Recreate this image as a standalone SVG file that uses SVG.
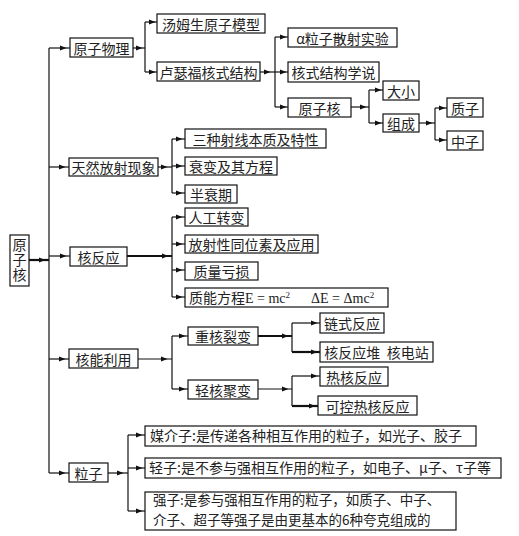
<svg xmlns="http://www.w3.org/2000/svg" width="519" height="536" viewBox="0 0 519 536">
<defs>
<style>
.b{fill:#fff;stroke:#111;stroke-width:1.2}
.t{font-family:"Noto Sans CJK SC","Noto Sans",sans-serif;font-size:14px;fill:#222;text-anchor:middle;dominant-baseline:central}
.tl{font-family:"Noto Sans CJK SC","Noto Sans",sans-serif;font-size:14px;fill:#222}
.c line,.c polyline{stroke:#111;stroke-width:1.2;fill:none}
.c .k{stroke-width:2.2}
.s{font-family:"Liberation Serif",serif}
.v{writing-mode:vertical-rl;letter-spacing:1px}
</style>
<path id="ah" d="M-5,-2.5 L1.5,0 L-5,2.5 Z" fill="#111"/>
</defs>
<rect width="519" height="536" fill="#fff"/>
<g class="c" id="connectors">
<line class="k" x1="29" y1="260" x2="49" y2="260"/>
<use href="#ah" x="44" y="260"/>
<line x1="49" y1="48" x2="49" y2="473"/>
<line x1="49" y1="48" x2="70" y2="48"/><use href="#ah" x="65" y="48"/>
<line x1="49" y1="167" x2="69" y2="167"/><use href="#ah" x="64" y="167"/>
<line x1="49" y1="256" x2="70" y2="256"/><use href="#ah" x="65" y="256"/>
<line x1="49" y1="359" x2="69" y2="359"/><use href="#ah" x="64" y="359"/>
<line x1="49" y1="473" x2="69" y2="473"/><use href="#ah" x="64" y="473"/>
<line x1="133" y1="48" x2="145" y2="48"/><use href="#ah" x="141" y="48"/>
<line x1="145" y1="22" x2="145" y2="72"/>
<line x1="145" y1="22" x2="157" y2="22"/><use href="#ah" x="154" y="22"/>
<line x1="145" y1="72" x2="157" y2="72"/><use href="#ah" x="154" y="72"/>
<line x1="260" y1="72" x2="275" y2="72"/><use href="#ah" x="269" y="72"/>
<line x1="275" y1="37" x2="275" y2="107"/>
<line x1="275" y1="37" x2="288" y2="37"/><use href="#ah" x="285" y="37"/>
<line x1="275" y1="72" x2="288" y2="72"/><use href="#ah" x="285" y="72"/>
<line x1="275" y1="107" x2="288" y2="107"/><use href="#ah" x="285" y="107"/>
<line x1="351" y1="107" x2="369" y2="107"/><use href="#ah" x="365" y="107"/>
<line x1="369" y1="90" x2="369" y2="123"/>
<line x1="369" y1="90" x2="383" y2="90"/><use href="#ah" x="380" y="90"/>
<line x1="369" y1="123" x2="383" y2="123"/><use href="#ah" x="380" y="123"/>
<line x1="419" y1="123" x2="435" y2="123"/><use href="#ah" x="431" y="123"/>
<line x1="435" y1="108" x2="435" y2="140"/>
<line x1="435" y1="108" x2="447" y2="108"/><use href="#ah" x="444" y="108"/>
<line x1="435" y1="140" x2="447" y2="140"/><use href="#ah" x="444" y="140"/>
<line x1="158" y1="167" x2="172" y2="167"/><use href="#ah" x="166" y="167"/>
<line x1="172" y1="139" x2="172" y2="193"/>
<line x1="172" y1="139" x2="185" y2="139"/><use href="#ah" x="181" y="139"/>
<line x1="172" y1="166" x2="185" y2="166"/><use href="#ah" x="181" y="166"/>
<line x1="172" y1="193" x2="185" y2="193"/><use href="#ah" x="181" y="193"/>
<line class="k" x1="127" y1="256" x2="172" y2="256"/><use href="#ah" x="167" y="256"/>
<line x1="172" y1="217" x2="172" y2="297"/>
<line x1="172" y1="217" x2="185" y2="217"/><use href="#ah" x="181" y="217"/>
<line x1="172" y1="244" x2="185" y2="244"/><use href="#ah" x="181" y="244"/>
<line x1="172" y1="270" x2="185" y2="270"/><use href="#ah" x="181" y="270"/>
<line x1="172" y1="297" x2="185" y2="297"/><use href="#ah" x="181" y="297"/>
<line x1="138" y1="359" x2="172" y2="359"/><use href="#ah" x="166" y="359"/>
<line x1="172" y1="336" x2="172" y2="389"/>
<line x1="172" y1="336" x2="188" y2="336"/><use href="#ah" x="184" y="336"/>
<line x1="172" y1="389" x2="188" y2="389"/><use href="#ah" x="184" y="389"/>
<line class="k" x1="258" y1="336" x2="292" y2="336"/><use href="#ah" x="287" y="336"/>
<line x1="292" y1="323" x2="292" y2="352"/>
<line x1="292" y1="323" x2="320" y2="323"/><use href="#ah" x="316" y="323"/>
<line class="k" x1="292" y1="352" x2="320" y2="352"/><use href="#ah" x="316" y="352"/>
<line x1="258" y1="389" x2="292" y2="389"/><use href="#ah" x="287" y="389"/>
<line x1="292" y1="376" x2="292" y2="406"/>
<line x1="292" y1="376" x2="320" y2="376"/><use href="#ah" x="316" y="376"/>
<line class="k" x1="292" y1="406" x2="318" y2="406"/><use href="#ah" x="314" y="406"/>
<line x1="108" y1="473" x2="128" y2="473"/><use href="#ah" x="122" y="473"/>
<line x1="128" y1="435" x2="128" y2="511"/>
<line x1="128" y1="435" x2="145" y2="435"/><use href="#ah" x="141" y="435"/>
<line x1="128" y1="468" x2="145" y2="468"/><use href="#ah" x="141" y="468"/>
<line x1="128" y1="511" x2="145" y2="511"/><use href="#ah" x="141" y="511"/>
</g>
<g id="root"><rect class="b" x="10" y="235" width="19" height="51"/><text class="tl v" x="19.5" y="238">原子核</text></g>
<g id="n1"><rect class="b" x="70" y="38" width="63" height="19"/><text class="t" x="101.5" y="47.5">原子物理</text></g>
<g id="n2"><rect class="b" x="157" y="14" width="108" height="19"/><text class="t" x="211" y="23.5">汤姆生原子模型</text></g>
<g id="n3"><rect class="b" x="157" y="62" width="103" height="19"/><text class="t" x="208.5" y="71.5">卢瑟福核式结构</text></g>
<g id="n4"><rect class="b" x="288" y="28" width="109" height="19"/><text class="t" x="342.5" y="37.5">α粒子散射实验</text></g>
<g id="n5"><rect class="b" x="288" y="62" width="91" height="20"/><text class="t" x="333.5" y="72">核式结构学说</text></g>
<g id="n6"><rect class="b" x="288" y="98" width="63" height="19"/><text class="t" x="319.5" y="107.5">原子核</text></g>
<g id="n7"><rect class="b" x="383" y="81" width="36" height="19"/><text class="t" x="401" y="90.5">大小</text></g>
<g id="n8"><rect class="b" x="383" y="114" width="36" height="18"/><text class="t" x="401" y="123">组成</text></g>
<g id="n9"><rect class="b" x="447" y="98" width="36" height="19"/><text class="t" x="465" y="107.5">质子</text></g>
<g id="n10"><rect class="b" x="447" y="131" width="36" height="19"/><text class="t" x="465" y="140.5">中子</text></g>
<g id="n11"><rect class="b" x="69" y="158" width="89" height="18"/><text class="t" x="113.5" y="167">天然放射现象</text></g>
<g id="n12"><rect class="b" x="185" y="129" width="141" height="19"/><text class="t" x="255.5" y="138.5">三种射线本质及特性</text></g>
<g id="n13"><rect class="b" x="185" y="157" width="92" height="18"/><text class="t" x="231" y="166">衰变及其方程</text></g>
<g id="n14"><rect class="b" x="185" y="185" width="52" height="18"/><text class="t" x="211" y="194">半衰期</text></g>
<g id="n15"><rect class="b" x="70" y="247" width="57" height="19"/><text class="t" x="98.5" y="256.5">核反应</text></g>
<g id="n16"><rect class="b" x="185" y="208" width="63" height="18"/><text class="t" x="216.5" y="217">人工转变</text></g>
<g id="n17"><rect class="b" x="185" y="235" width="133" height="18"/><text class="t" x="251.5" y="244">放射性同位素及应用</text></g>
<g id="n18"><rect class="b" x="185" y="262" width="73" height="18"/><text class="t" x="221.5" y="271">质量亏损</text></g>
<g id="n19"><rect class="b" x="185" y="288" width="203" height="19"/><text class="tl" x="189" y="302.5" xml:space="preserve">质能方程<tspan class="s">E = mc<tspan baseline-shift="super" font-size="9">2</tspan>      ΔE = Δmc<tspan baseline-shift="super" font-size="9">2</tspan></tspan></text></g>
<g id="n20"><rect class="b" x="69" y="349" width="69" height="19"/><text class="t" x="103.5" y="358.5">核能利用</text></g>
<g id="n21"><rect class="b" x="188" y="327" width="70" height="18"/><text class="t" x="223" y="336">重核裂变</text></g>
<g id="n22"><rect class="b" x="188" y="380" width="70" height="19"/><text class="t" x="223" y="389.5">轻核聚变</text></g>
<g id="n23"><rect class="b" x="320" y="313" width="64" height="20"/><text class="t" x="352" y="323">链式反应</text></g>
<g id="n24"><rect class="b" x="320" y="342" width="113" height="20"/><text class="t" x="376.5" y="352" xml:space="preserve">核反应堆  核电站</text></g>
<g id="n25"><rect class="b" x="320" y="367" width="68" height="19"/><text class="t" x="354" y="376.5">热核反应</text></g>
<g id="n26"><rect class="b" x="318" y="396" width="99" height="19"/><text class="t" x="367.5" y="405.5">可控热核反应</text></g>
<g id="n27"><rect class="b" x="69" y="463" width="39" height="19"/><text class="t" x="88.5" y="472.5">粒子</text></g>
<g id="n28"><rect class="b" x="145" y="426" width="331" height="20"/><text class="tl" x="150" y="441">媒介子:是传递各种相互作用的粒子，如光子、胶子</text></g>
<g id="n29"><rect class="b" x="145" y="458" width="356" height="20"/><text class="tl" x="149" y="473">轻子:是不参与强相互作用的粒子，如电子、μ子、τ子等</text></g>
<g id="n30"><rect class="b" x="145" y="492" width="311" height="38"/><text class="tl" x="153" y="505" font-size="13.5" style="font-size:13.5px">强子:是参与强相互作用的粒子，如质子、中子、<tspan x="153" dy="19.6">介子、超子等强子是由更基本的6种夸克组成的</tspan></text></g>
</svg>
